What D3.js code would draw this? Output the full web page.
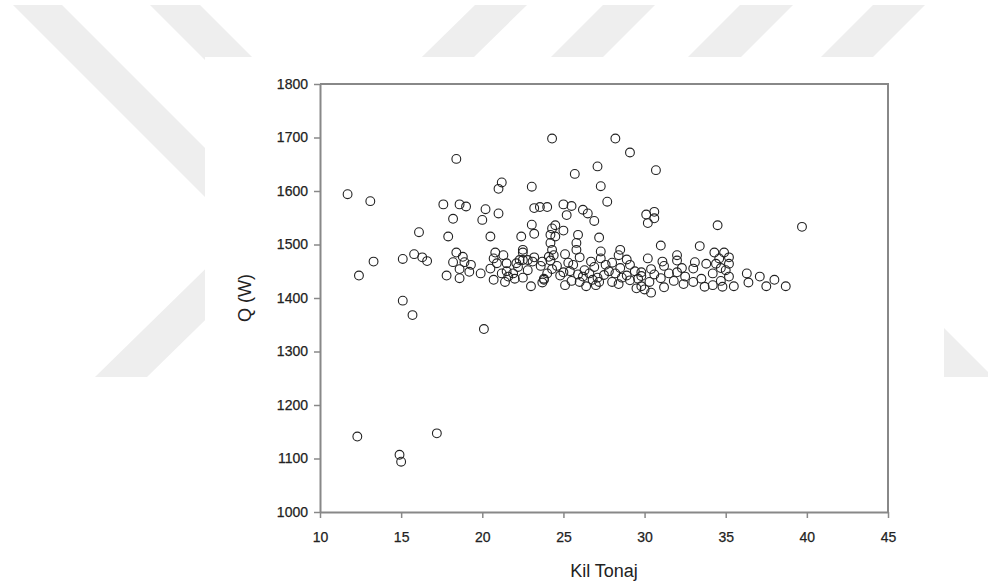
<!DOCTYPE html>
<html>
<head>
<meta charset="utf-8">
<script src="https://cdn.jsdelivr.net/npm/d3@7"></script>
<style>
  body { margin: 0; background: #fff; }
  svg { display: block; }
  .tick text { font-family: "Liberation Sans", Arial, sans-serif; font-size: 14px; fill: #222; stroke: #222; stroke-width: 0.25px; }
  .axis-title { font-family: "Liberation Sans", Arial, sans-serif; font-size: 18px; fill: #222; }
</style>
</head>
<body>
<svg id="chart" width="988" height="587"></svg>
<script>
// Kil Tonaj (x) and Q (W) (y)
var kilTonaj = [
  11.7, 13.1, 12.4, 13.3, 12.3, 14.9, 15.0, 17.2, 15.1, 15.7, 20.1, 15.1, 15.8, 16.3, 16.6, 16.1,
  17.6, 18.2, 17.9, 18.6, 19.0, 18.4, 17.8, 18.4, 18.2, 18.9, 19.3, 18.6, 19.2, 18.6, 18.8,
  20.0, 20.2, 21.0, 21.2, 21.0, 20.5, 20.8, 23.05, 23.2, 23.55, 24.0, 22.4, 23.05, 23.2, 22.5,
  24.3, 28.2, 29.1, 30.7, 25.7, 27.1, 27.3, 27.7, 25.0, 25.5, 25.2, 26.2, 26.5, 26.9,
  30.1, 30.6, 30.2, 30.6, 34.5, 39.7, 24.3, 24.5, 25.0, 24.2, 24.5, 25.9, 25.8, 27.2, 27.3,
  31.0, 33.4, 32.0, 28.5, 24.2, 25.8, 22.5, 24.3, 24.4,
  23.0, 23.7, 25.1, 26.4, 27.0, 28.4, 29.5, 30.4, 31.2, 32.4, 33.7, 34.2, 34.8, 35.5, 36.4,
  37.5, 38.7, 29.8, 30.0,
  21.4, 22.5, 23.8, 24.8, 25.5, 26.2, 26.8, 27.5, 28.0, 28.6, 29.1, 29.8, 30.3, 31.0, 31.8,
  32.5, 33.0, 33.5, 34.2, 34.7, 35.2, 37.1, 38.0, 36.3, 21.6, 22.0,
  20.9, 21.5, 22.2, 22.8, 23.6, 24.3, 25.0, 25.6, 26.3, 26.9, 27.8, 28.5, 29.1, 29.8, 30.4,
  31.2, 32.0, 33.0, 33.8, 34.7, 35.2, 34.4, 35.0,
  20.7, 21.3, 22.5, 23.2, 24.2, 25.1, 26.0, 27.3, 28.4, 28.9, 30.2, 31.1, 32.0, 33.1, 34.3,
  34.9, 35.2, 34.6,
  19.9, 20.5, 20.7, 21.2, 21.5, 21.9, 22.1, 22.3, 22.8, 23.1, 23.7, 23.8, 24.0, 24.1,
  24.6, 25.3, 25.9, 26.6, 27.1, 27.6, 28.2, 28.9, 29.4, 29.6, 30.6, 31.5, 32.3, 26.0, 27.2,
  25.4, 26.7, 28.0
];
var qW = [
  1594, 1581, 1442, 1468, 1141, 1107, 1094, 1147, 1395, 1368, 1342, 1473, 1482, 1476, 1469, 1523,
  1575, 1548, 1515, 1575, 1571, 1660, 1442, 1485, 1467, 1467, 1462, 1454, 1449, 1437, 1477,
  1546, 1566, 1558, 1616, 1604, 1515, 1485, 1608, 1568, 1570, 1570, 1515, 1537, 1520, 1490,
  1698, 1698, 1672, 1639, 1632, 1646, 1609, 1580, 1575, 1572, 1555, 1565, 1558, 1544,
  1556, 1561, 1540, 1549, 1536, 1533, 1530, 1536, 1526, 1518, 1515, 1518, 1503, 1513, 1487,
  1498, 1497, 1480, 1490, 1503, 1490, 1485, 1490, 1480,
  1422, 1429, 1424, 1422, 1424, 1426, 1418, 1410, 1420, 1426, 1421, 1424, 1421, 1422, 1429,
  1422, 1422, 1422, 1416,
  1430, 1438, 1434, 1442, 1432, 1440, 1434, 1443, 1430, 1438, 1433, 1441, 1430, 1437, 1432,
  1440, 1430, 1436, 1446, 1432, 1440, 1440, 1434, 1446, 1440, 1436,
  1465, 1450, 1458, 1452, 1460, 1454, 1448, 1462, 1452, 1458, 1450, 1456, 1462, 1448, 1454,
  1460, 1448, 1455, 1464, 1456, 1464, 1464, 1452,
  1474, 1480, 1471, 1476, 1470, 1482, 1476, 1474, 1480, 1472, 1474, 1468, 1470, 1467, 1485,
  1485, 1476, 1474,
  1446, 1455, 1434, 1446, 1465, 1446, 1465, 1471, 1471, 1468, 1468, 1436, 1446, 1477,
  1460, 1466, 1444, 1446, 1438, 1462, 1446, 1442, 1450, 1436, 1444, 1446, 1456, 1430, 1430,
  1450, 1468, 1466
];
var xTicks = [10, 15, 20, 25, 30, 35, 40, 45];
var yTicks = [1000, 1100, 1200, 1300, 1400, 1500, 1600, 1700, 1800];

var svg = d3.select("#chart");

// faint background stripes (page watermark), then the white page panel
var stripes = [
  [[13,5],[62,5],[434,377],[385,377]],
  [[150,5],[200,5],[572,377],[522,377]],
  [[475,5],[527,5],[147,377],[95,377]],
  [[603,5],[655,5],[283,377],[231,377]],
  [[740,5],[793,5],[421,377],[368,377]],
  [[873,5],[925,5],[553,377],[501,377]],
  [[930,314],[993,377],[930,377]]
];
svg.selectAll("polygon.wm")
    .data(stripes)
    .enter()
    .append("polygon")
    .attr("class","wm")
    .attr("points",function(d){ return d.join(" "); })
    .attr("fill","#eeeeee");

svg.append("rect")
    .attr("x",205).attr("y",57)
    .attr("width",739).attr("height",530)
    .attr("fill","#fff");

var x = d3.scaleLinear().domain([10,45]).range([320,888]);
var y = d3.scaleLinear().domain([1000,1800]).range([512,84]);

var axisColor = "#888";

// frame top + right
svg.append("path")
    .attr("d","M" + x(10) + "," + y(1800) + "H" + x(45) + "V" + y(1000))
    .attr("fill","none")
    .attr("stroke",axisColor)
    .attr("stroke-width",2);

var gx = svg.append("g")
    .attr("transform","translate(0," + y(1000) + ")")
    .call(d3.axisBottom(x).tickValues(xTicks).tickSize(6).tickSizeOuter(0).tickPadding(14).tickFormat(d3.format("d")));
var gy = svg.append("g")
    .attr("transform","translate(" + x(10) + ",0)")
    .call(d3.axisLeft(y).tickValues(yTicks).tickSize(6).tickSizeOuter(0).tickPadding(6).tickFormat(d3.format("d")));

[gx, gy].forEach(function(g){
    g.select(".domain").attr("stroke",axisColor).attr("stroke-width",2);
    g.selectAll(".tick line").attr("stroke",axisColor).attr("stroke-width",1.5);
});

var points = kilTonaj.map(function(v,i){ return {x:v, y:qW[i]}; });

svg.append("g")
    .selectAll("circle")
    .data(points)
    .enter()
    .append("circle")
    .attr("cx",function(d){ return x(d.x); })
    .attr("cy",function(d){ return y(d.y); })
    .attr("r",4.4)
    .attr("fill","none")
    .attr("stroke","#222")
    .attr("stroke-width",1.1);

svg.append("text")
    .attr("class","axis-title")
    .attr("x",(x(10)+x(45))/2)
    .attr("y",577)
    .attr("text-anchor","middle")
    .text("Kil Tonaj");

svg.append("text")
    .attr("class","axis-title")
    .attr("transform","translate(251," + (y(1000)+y(1800))/2 + ") rotate(-90)")
    .attr("text-anchor","middle")
    .text("Q (W)");
</script>
</body>
</html>
